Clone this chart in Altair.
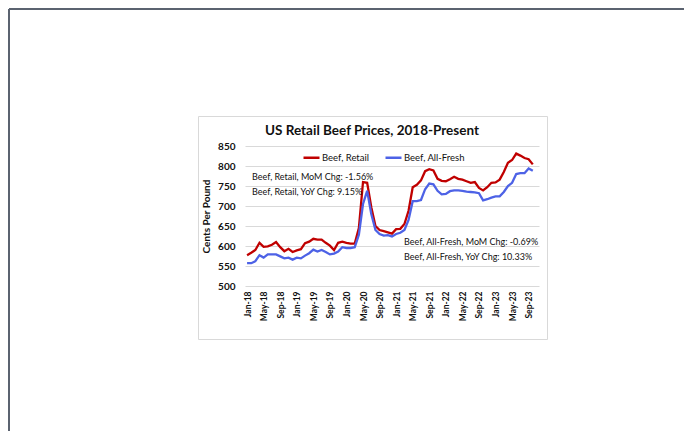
import altair as alt
import pandas as pd

MON = ["Jan", "Feb", "Mar", "Apr", "May", "Jun", "Jul", "Aug", "Sep", "Oct", "Nov", "Dec"]
months = [f"{m}-{y}" for y in range(18, 24) for m in MON][:71]   # Jan-18 .. Nov-23 (axis categories)
tick_labels = months[0:69:4]                                       # Jan-18, May-18, ... Sep-23

series_names = ["Beef, Retail", "Beef, All-Fresh"]
series_colors = ["#c00000", "#4d62e6"]

retail = [577, 583, 590, 608, 598, 599, 603, 610, 597, 587, 593, 585,
          589, 592, 607, 611, 618, 616, 616, 608, 601, 590, 608, 611,
          608, 606, 606, 645, 760, 758, 697, 650, 640, 637, 634, 631,
          642, 643, 655, 688, 747, 753, 764, 787, 792, 789, 768, 763,
          762, 767, 773, 768, 766, 762, 758, 760, 745, 739, 747, 758,
          759, 766, 785, 808, 815, 831, 826, 820, 817, 804]
fresh = [557, 557, 562, 577, 571, 579, 579, 579, 574, 569, 571, 566,
         571, 569, 576, 582, 591, 586, 590, 585, 579, 581, 586, 597,
         595, 595, 597, 628, 705, 738, 680, 640, 630, 626, 627, 624,
         630, 633, 640, 665, 712, 712, 715, 742, 756, 754, 738, 729,
         730, 737, 739, 739, 738, 736, 735, 734, 732, 714, 717, 721,
         724, 724, 735, 750, 758, 780, 782, 782, 794, 788]

y_ticks = [500, 550, 600, 650, 700, 750, 800, 850]

title_text = "US Retail Beef Prices, 2018-Present"
notes = [
    "Beef, Retail, MoM Chg: -1.56%",
    "Beef, Retail, YoY Chg: 9.15%",
    "Beef, All-Fresh, MoM Chg: -0.69%",
    "Beef, All-Fresh, YoY Chg: 10.33%",
]

# ---------------------------------------------------------------- layout
FONT = "Lato"
L, T, W, H, R, B = 237, 138, 294, 140, 145, 145

rows = []
for name, vals in zip(series_names, [retail, fresh]):
    for m, v in zip(months, vals):
        rows.append({"month": m, "series": name, "value": v})
df = pd.DataFrame(rows)

one = alt.Data(values=[{"k": 1}])

# outer page frame (top and left edges)
frame_top = alt.Chart(one).mark_rule(color="#5b6370", strokeWidth=2).encode(
    x=alt.value(1 - L), x2=alt.value(W + R), y=alt.value(1 - T))
frame_left = alt.Chart(one).mark_rule(color="#5b6370", strokeWidth=2).encode(
    x=alt.value(1 - L), y=alt.value(1 - T), y2=alt.value(H + B))

# chart box
box = alt.Chart(one).mark_rect(fill="transparent", stroke="#d9d9d9", strokeWidth=1).encode(
    x=alt.value(-46.5), x2=alt.value(302.5), y=alt.value(-29.5), y2=alt.value(193.5))

lines = alt.Chart(df).mark_line(strokeWidth=2.3).encode(
    x=alt.X("month:N",
            scale=alt.Scale(type="point", domain=months, padding=0.5),
            axis=alt.Axis(values=tick_labels, labelAngle=-90, labelFont=FONT,
                          labelFontSize=8.5, labelFontWeight="bold", labelColor="#111",
                          labelPadding=5, ticks=False, domain=False, grid=False,
                          title=None)),
    y=alt.Y("value:Q",
            scale=alt.Scale(domain=[500, 850], nice=False, zero=False),
            axis=alt.Axis(values=y_ticks, title="Cents Per Pound", titleFont=FONT,
                          titleFontSize=10, titleFontWeight="bold", titleColor="#111",
                          titlePadding=6, labelFont=FONT, labelFontSize=10,
                          labelFontWeight="bold", labelColor="#111", labelPadding=10,
                          ticks=False, domain=False, gridColor="#d9d9d9", gridWidth=1)),
    color=alt.Color("series:N",
                    scale=alt.Scale(domain=series_names, range=series_colors),
                    legend=alt.Legend(orient="none", legendX=57, legendY=2,
                                      direction="horizontal", title=None,
                                      symbolType="stroke", symbolSize=256,
                                      symbolStrokeWidth=2.5, labelFont=FONT,
                                      labelFontSize=9.5, labelColor="#111",
                                      labelOffset=1, columnPadding=10)),
)

title = alt.Chart(one).mark_text(font=FONT, fontSize=13.5, fontWeight="bold",
                                 color="#111", align="center", baseline="middle").encode(
    x=alt.value(127), y=alt.value(-15), text=alt.value(title_text))

note_pos = [(7, 30.5), (7, 45.5), (159, 95.5), (159, 110.5)]
note_layers = []
for txt, (px, py) in zip(notes, note_pos):
    note_layers.append(
        alt.Chart(one).mark_text(font=FONT, fontSize=9, color="#111",
                                 align="left", baseline="middle").encode(
            x=alt.value(px), y=alt.value(py), text=alt.value(txt)))

chart = alt.layer(frame_top, frame_left, box, lines, title, *note_layers).properties(
    width=W, height=H,
    padding={"left": L, "top": T, "right": R, "bottom": B},
    autosize=alt.AutoSizeParams(type="none"),
    background="white",
).configure_view(strokeWidth=0)

chart.save("out.html", embed_options={"renderer": "svg", "actions": False})
